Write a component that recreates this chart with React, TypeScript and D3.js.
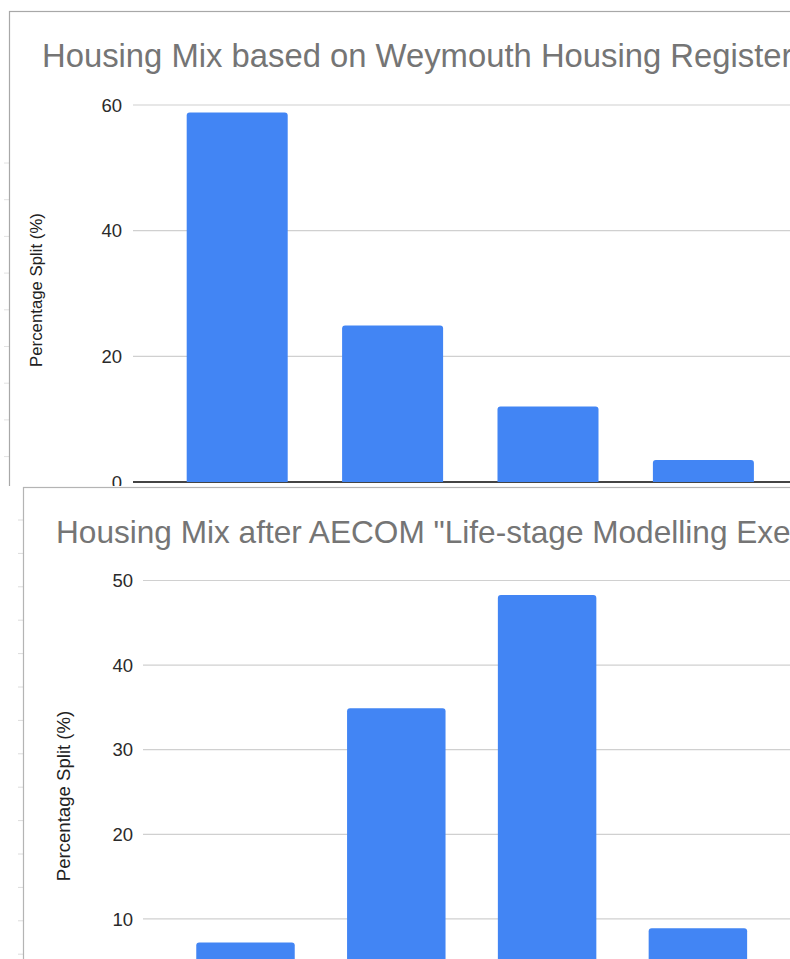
import React from "react";
import * as d3 from "d3";

// ---- data ----
const categories = ["1 bed", "2 bed", "3 bed", "4+ bed"];
const registerValues = [58.8, 24.9, 12.0, 3.5];
const aecomValues = [7.2, 34.9, 48.3, 8.9];
const registerTicks = [0, 20, 40, 60];
const aecomTicks = [10, 20, 30, 40, 50];
const registerTitle = "Housing Mix based on Weymouth Housing Register";
const aecomTitle = 'Housing Mix after AECOM "Life-stage Modelling Exercise"';
const yAxisTitle = "Percentage Split (%)";

const W = 790;
const H = 959;
const FONT = "'Liberation Sans', Arial, Helvetica, sans-serif";
const BLUE = "#4285f4";

function barPath(x: number, y: number, w: number, h: number, r: number) {
  const rr = Math.max(0, Math.min(r, h / 2, w / 2));
  return `M${x},${y + h}V${y + rr}Q${x},${y} ${x + rr},${y}H${x + w - rr}Q${x + w},${y} ${x + w},${y + rr}V${y + h}Z`;
}

type PanelProps = {
  title: string;
  titleSize: number;
  values: number[];
  ticks: number[];
  yDomain: [number, number];
  yRange: [number, number];
  xRange: [number, number];
  padInner: number;
  gridLeft: number;
  labelRight: number;
  titleX: number;
  titleY: number;
  axisTitleX: number;
  axisTitleY: number;
  axisTitleSize: number;
  showBaseline: boolean;
};

function Panel(p: PanelProps) {
  const x = d3
    .scaleBand<string>()
    .domain(categories)
    .range(p.xRange)
    .paddingInner(p.padInner)
    .paddingOuter(p.padInner / 2);
  const y = d3.scaleLinear().domain(p.yDomain).range(p.yRange);
  return (
    <g>
      <text
        x={p.titleX}
        y={p.titleY}
        fontFamily={FONT}
        fontSize={p.titleSize}
        fill="#757575"
      >
        {p.title}
      </text>
      {p.ticks.map((t) => (
        <g key={t}>
          {!(p.showBaseline && t === 0) && (
            <line
              x1={p.gridLeft}
              x2={W}
              y1={y(t)}
              y2={y(t)}
              stroke="#d0d0d0"
              strokeWidth={1.2}
            />
          )}
          <text
            x={p.labelRight}
            y={y(t)}
            dy="0.36em"
            textAnchor="end"
            fontFamily={FONT}
            fontSize={18.5}
            fill="#2a2a2a"
          >
            {t}
          </text>
        </g>
      ))}
      {p.showBaseline && (
        <line
          x1={p.gridLeft}
          x2={W}
          y1={y(0)}
          y2={y(0)}
          stroke="#444"
          strokeWidth={2}
        />
      )}
      {p.values.map((v, i) => {
        const bx = x(categories[i]) as number;
        const by = y(v);
        return (
          <path
            key={categories[i]}
            d={barPath(bx, by, x.bandwidth(), y(0) - by, 3)}
            fill={BLUE}
          />
        );
      })}
      <text
        transform={`translate(${p.axisTitleX},${p.axisTitleY}) rotate(-90)`}
        textAnchor="middle"
        fontFamily={FONT}
        fontSize={p.axisTitleSize}
        fill="#222"
      >
        {yAxisTitle}
      </text>
    </g>
  );
}

export default function App() {
  const topRowTicks = d3.range(163, 486, 36.7);
  const bottomRowTicks = d3.range(520, H, 33.4);
  return (
    <svg
      width={W}
      height={H}
      viewBox={`0 0 ${W} ${H}`}
      style={{ position: "absolute", left: 0, top: 0, background: "#fff" }}
    >
      <rect x={0} y={0} width={W} height={H} fill="#fff" />
      {/* top screenshot */}
      {topRowTicks.map((t) => (
        <line key={t} x1={4} x2={9} y1={t} y2={t} stroke="#e2e2e2" strokeWidth={1} />
      ))}
      <rect x={9.5} y={11.5} width={W} height={480} fill="#fff" stroke="#a8a8a8" strokeWidth={1.2} />
      <Panel
        title={registerTitle}
        titleSize={32.8}
        values={registerValues}
        ticks={registerTicks}
        yDomain={[0, 60]}
        yRange={[482, 105]}
        xRange={[159.5, 781.1]}
        padInner={0.35}
        gridLeft={133}
        labelRight={122}
        titleX={42}
        titleY={66.5}
        axisTitleX={42}
        axisTitleY={290}
        axisTitleSize={16.8}
        showBaseline={true}
      />
      {/* bottom screenshot overlaid */}
      <rect x={0} y={486} width={W} height={H - 486} fill="#fff" />
      {bottomRowTicks.map((t) => (
        <line key={t} x1={18} x2={23} y1={t} y2={t} stroke="#dcdcdc" strokeWidth={1} />
      ))}
      <rect x={23.5} y={487.5} width={W} height={H} fill="#fff" stroke="#b4b4b4" strokeWidth={1.2} />
      <Panel
        title={aecomTitle}
        titleSize={31.6}
        values={aecomValues}
        ticks={aecomTicks}
        yDomain={[0, 50]}
        yRange={[1003.5, 580.5]}
        xRange={[170.1, 773.3]}
        padInner={0.347}
        gridLeft={143}
        labelRight={133}
        titleX={56}
        titleY={543}
        axisTitleX={70}
        axisTitleY={796}
        axisTitleSize={18.6}
        showBaseline={false}
      />
    </svg>
  );
}
